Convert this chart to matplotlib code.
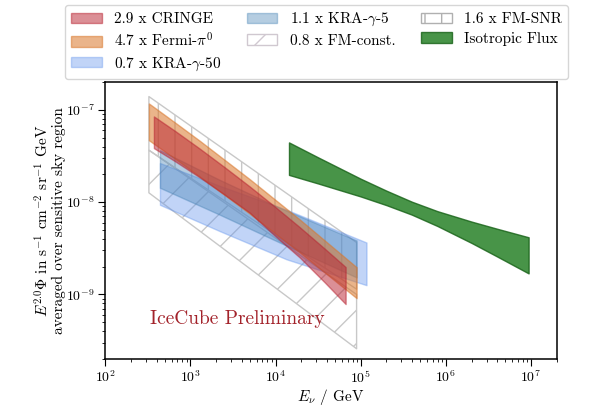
import matplotlib
matplotlib.use("Agg")
import matplotlib.pyplot as plt
from matplotlib.patches import Patch

plt.rcParams.update({
    "font.family": "serif",
    "font.serif": ["cmr10"],
    "mathtext.fontset": "cm",
    "axes.formatter.use_mathtext": True,
    "axes.unicode_minus": True,
    "hatch.linewidth": 1.0,
})

# --- model bands (E in GeV, E^2 Phi in s^-1 cm^-2 sr^-1 GeV) ---
cringe_E = [372, 656, 1288, 2531, 4970, 9750, 19140, 37580, 66370]
cringe_hi = [8.47e-8, 5.92e-8, 3.79e-8, 2.38e-8, 1.475e-8, 8.97e-9, 5.36e-9, 3.14e-9, 1.98e-9]
cringe_lo = [3.84e-8, 2.78e-8, 1.85e-8, 1.20e-8, 7.67e-9, 4.34e-9, 2.52e-9, 1.355e-9, 7.87e-10]

fermi_E = [325, 656, 1288, 4970, 19140, 89300]
fermi_hi = [1.17e-7, 7.30e-8, 4.61e-8, 1.77e-8, 6.50e-9, 1.97e-9]
fermi_lo = [4.68e-8, 2.96e-8, 1.89e-8, 7.50e-9, 2.86e-9, 9.12e-10]

kra50_E = [438, 2210, 13460, 116700]
kra50_hi = [2.65e-8, 1.50e-8, 8.26e-9, 3.65e-9]
kra50_lo = [9.35e-9, 4.85e-9, 2.40e-9, 1.26e-9]

kra5_E = [438, 2210, 11160, 89300]
kra5_hi = [3.65e-8, 1.74e-8, 8.69e-9, 3.84e-9]
kra5_lo = [1.43e-8, 7.30e-9, 3.65e-9, 1.53e-9]

fmconst_E = [325, 89300]
fmconst_hi = [3.65e-8, 1.0e-9]
fmconst_lo = [1.26e-8, 2.58e-10]

fmsnr_E = [325, 89300]
fmsnr_hi = [1.39e-7, 3.65e-9]
fmsnr_lo = [3.65e-8, 1.14e-9]

iso_E = [1.435e4, 3.16e4, 1.0e5, 2.0e5, 3.98e5, 7.94e5, 2.0e6, 3.98e6, 9.35e6]
iso_hi = [4.43e-8, 3.05e-8, 1.79e-8, 1.33e-8, 1.01e-8, 7.98e-9, 6.15e-9, 5.15e-9, 4.16e-9]
iso_lo = [1.97e-8, 1.59e-8, 1.15e-8, 9.27e-9, 7.31e-9, 5.51e-9, 3.61e-9, 2.58e-9, 1.69e-9]

x_ticks = [1e2, 1e3, 1e4, 1e5, 1e6, 1e7]
y_ticks = [1e-9, 1e-8, 1e-7]

labels = [r"2.9 x CRINGE", r"4.7 x Fermi-$\pi^0$", r"0.7 x KRA-$\gamma$-50",
          r"1.1 x KRA-$\gamma$-5", r"0.8 x FM-const.", r"1.6 x FM-SNR",
          r"Isotropic Flux"]

fig = plt.figure(figsize=(6.13, 4.07), dpi=100)
ax = fig.add_axes([0.1718, 0.118, 0.7364, 0.6806])

grid_col = "#c8c8c8"
ax.fill_between(fmsnr_E, fmsnr_lo, fmsnr_hi, facecolor="none",
                edgecolor=grid_col, hatch="|", linewidth=1.0)
ax.fill_between(fmconst_E, fmconst_lo, fmconst_hi, facecolor="none",
                edgecolor=grid_col, hatch="/", linewidth=1.0)

ax.fill_between(kra50_E, kra50_lo, kra50_hi, color="cornflowerblue",
                alpha=0.4, linewidth=1.0)
ax.fill_between(kra5_E, kra5_lo, kra5_hi, color="steelblue",
                alpha=0.4, linewidth=1.0)
ax.fill_between(fermi_E, fermi_lo, fermi_hi, color="#d9772b",
                alpha=0.55, linewidth=1.0)
ax.fill_between(cringe_E, cringe_lo, cringe_hi, color="#b8202f",
                alpha=0.5, linewidth=1.0)
ax.fill_between(iso_E, iso_lo, iso_hi, facecolor="#1a7a1a",
                edgecolor="#156015", alpha=0.8, linewidth=1.0)

ax.set_xscale("log")
ax.set_yscale("log")
ax.set_xticks(x_ticks)
ax.set_yticks(y_ticks)
ax.set_xlim(1e2, 2e7)
ax.set_ylim(2e-10, 2e-7)
ax.tick_params(which="both", direction="out", labelsize=10, pad=2.5)
ax.tick_params(which="major", length=5)
ax.tick_params(which="minor", length=2.5)
for s in ax.spines.values():
    s.set_linewidth(1.1)

ax.set_xlabel(r"$E_\nu$ / GeV", fontsize=11, labelpad=0.5)
ax.set_ylabel("$E^{2.0}\\Phi$ in s$^{-1}$ cm$^{-2}$ sr$^{-1}$ GeV\n"
              "averaged over sensitive sky region", fontsize=11,
              multialignment="center", linespacing=1.0, labelpad=0)

ax.text(0.10, 0.145, "IceCube Preliminary", transform=ax.transAxes,
        fontsize=14, color="#a3232b", va="center", ha="left")

handles = [
    Patch(facecolor="#b8202f", alpha=0.5, edgecolor="#b8202f"),
    Patch(facecolor="#d9772b", alpha=0.55, edgecolor="#d9772b"),
    Patch(facecolor="cornflowerblue", alpha=0.4, edgecolor="cornflowerblue"),
    Patch(facecolor="steelblue", alpha=0.4, edgecolor="steelblue"),
    Patch(facecolor="none", edgecolor="#d0c8d0", hatch="/"),
    Patch(facecolor="none", edgecolor="#b0b0b0", hatch="|"),
    Patch(facecolor="#1a7a1a", alpha=0.8, edgecolor="#156015"),
]
fig.legend(handles, labels, ncol=3, loc="upper left", mode="expand",
           bbox_to_anchor=(65 / 613, 1 - 5 / 407, 503 / 613, 0.0),
           borderaxespad=0, fontsize=11, frameon=True, handlelength=2.0,
           labelspacing=0.35, columnspacing=1.0)

fig.savefig("out.png", dpi=100)
